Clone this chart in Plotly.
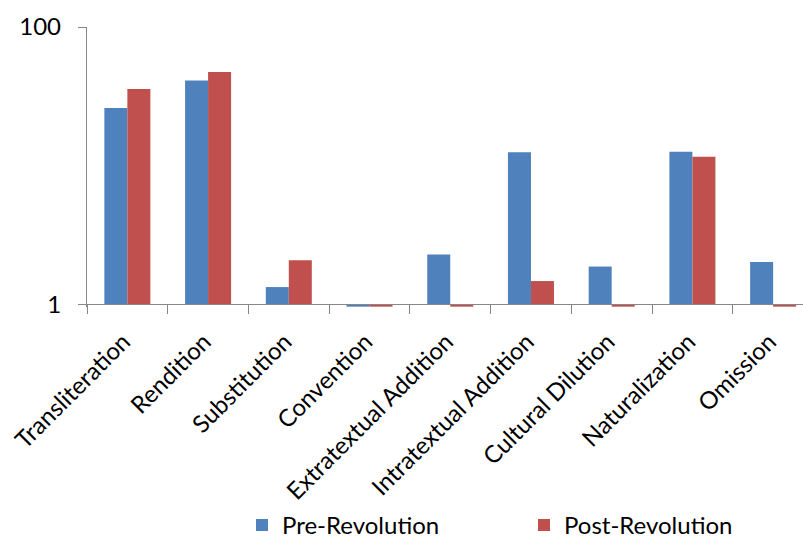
import plotly.graph_objects as go

categories = ["Transliteration", "Rendition", "Substitution", "Convention",
              "Extratextual Addition", "Intratextual Addition", "Cultural Dilution",
              "Naturalization", "Omission"]
pre_revolution = [26.0, 41.2, 1.33, 0.96, 2.28, 12.5, 1.87, 12.6, 2.02]
post_revolution = [35.7, 47.3, 2.08, 0.96, 0.96, 1.47, 0.96, 11.6, 0.96]
y_tick_vals = [1, 100]
y_tick_text = ["1", "100"]

BASE = 1
FONT = "Lato"
FS = 24
AXIS_GRAY = "#878787"

fig = go.Figure()
fig.add_trace(go.Bar(name="Pre-Revolution", x=categories,
                     y=[v - BASE for v in pre_revolution], base=BASE,
                     marker=dict(color="#4F81BD", line=dict(width=0)), legend="legend"))
fig.add_trace(go.Bar(name="Post-Revolution", x=categories,
                     y=[v - BASE for v in post_revolution], base=BASE,
                     marker=dict(color="#C0504D", line=dict(width=0)), legend="legend2"))
# invisible helper trace carrying the category labels on an overlaid axis
fig.add_trace(go.Scatter(x=categories, y=pre_revolution, xaxis="x2", mode="markers",
                         marker=dict(opacity=0), showlegend=False, hoverinfo="skip"))

y_lo, y_hi = -0.02, 2.0
x_range = [-0.5, 8.37]
axis_pos = (0 - y_lo) / (y_hi - y_lo)
legend_common = dict(orientation="h", yanchor="middle", y=0.027, xanchor="left",
                     xref="container", yref="container",
                     font=dict(family=FONT, size=FS, color="black"),
                     itemclick=False, itemdoubleclick=False, bgcolor="rgba(0,0,0,0)")
fig.update_layout(
    width=803, height=540,
    margin=dict(l=87, r=0, t=27, b=233, autoexpand=False),
    paper_bgcolor="white", plot_bgcolor="white",
    barmode="group", bargap=0.43, bargroupgap=0,
    font=dict(family=FONT, size=FS, color="black"),
    showlegend=True,
    legend=dict(legend_common, x=242 / 803),
    legend2=dict(legend_common, x=524 / 803),
    xaxis=dict(type="category", categoryarray=categories, range=x_range, tickson="boundaries",
               ticks="outside", ticklen=9, tickcolor=AXIS_GRAY, tickwidth=1.3,
               showline=True, linecolor=AXIS_GRAY, linewidth=1.3,
               showgrid=False, showticklabels=False, automargin=False,
               anchor="free", position=axis_pos),
    xaxis2=dict(type="category", categoryarray=categories, range=x_range,
                overlaying="x", side="bottom", anchor="free", position=axis_pos,
                ticks="outside", ticklen=13, tickcolor="rgba(0,0,0,0)",
                showline=False, showgrid=False, zeroline=False,
                tickangle=-45, automargin=False, ticklabelshift=-4,
                tickfont=dict(family=FONT, size=FS, color="black")),
    yaxis=dict(type="log", range=[y_lo, y_hi], tickvals=y_tick_vals, ticktext=y_tick_text,
               ticks="outside", ticklen=8, tickcolor=AXIS_GRAY, tickwidth=1.3,
               showline=True, linecolor=AXIS_GRAY, linewidth=1.3,
               showgrid=True, gridcolor=AXIS_GRAY, gridwidth=1.3,
               zeroline=False, automargin=False, ticklabelstandoff=12,
               tickfont=dict(family=FONT, size=FS, color="black")),
)

fig.write_html("out.html")
